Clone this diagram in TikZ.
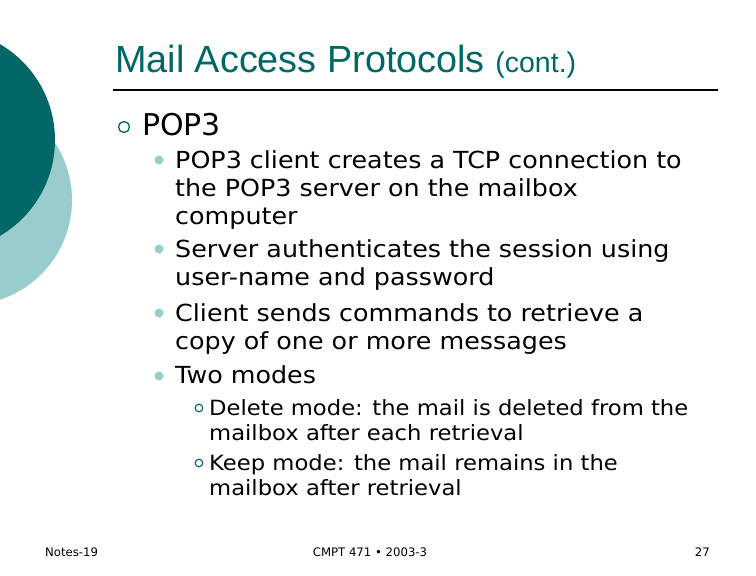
\documentclass[tikz,border=0pt]{standalone}
\usepackage{fontspec}
\setmainfont{DejaVu Sans}[FakeStretch=1.08]
\newfontfamily\plainf{DejaVu Sans}
\newfontfamily\arialf{Liberation Sans}
\definecolor{darkteal}{RGB}{0,102,102}
\definecolor{lightteal}{RGB}{153,204,204}
\begin{document}
\begin{tikzpicture}[x=1pt,y=-1pt,
  body/.style={anchor=base west,inner sep=0pt,font=\fontsize{23.5}{28}\selectfont,align=left},
  sub/.style={anchor=base west,inner sep=0pt,font=\fontsize{21}{25}\selectfont,align=left},
  foot/.style={anchor=base,inner sep=0pt,font=\plainf\fontsize{11.7}{13}\selectfont}]
\useasboundingbox (0,0) rectangle (756,576);
\fill[lightteal] (-33,200) circle (105);
\fill[darkteal] (-56,140) circle (111);
\node[anchor=base west,inner sep=0pt,text=darkteal,font=\arialf\fontsize{37.8}{40}\selectfont] (title) at (115,72) {Mail Access Protocols {\fontsize{28.5}{30}\selectfont(cont.)}};
\draw[line width=1.5pt] (113,90) -- (718,90);
\draw[darkteal,line width=1.3pt] (124,127) circle (5.5);
\node[anchor=base west,inner sep=0pt,font=\plainf\fontsize{30}{32}\selectfont] (pop) at (142,135) {POP3};
\foreach \y in {160,249,313,376} \fill[lightteal] (159,\y) circle (4.5);
\node[body] (b1) at (175,224) {POP3 client creates a TCP connection to\\the POP3 server on the mailbox\\computer};
\node[body] (b2) at (175,285) {Server authenticates the session using\\user-name and password};
\node[body] (b3) at (175,349) {Client sends commands to retrieve a\\copy of one or more messages};
\node[body] (b4) at (175,383) {Two modes};
\foreach \y in {408,463} \draw[darkteal,line width=1.1pt] (199,\y) circle (3.8);
\node[sub] (s1) at (209,440) {Delete mode: the mail is deleted from the\\mailbox after each retrieval};
\node[sub] (s2) at (209,495) {Keep mode: the mail remains in the\\mailbox after retrieval};
\node[foot,anchor=base west] (f1) at (45,556) {Notes-19};
\node[foot] (f2) at (370,556) {CMPT 471 • 2003-3};
\node[foot,anchor=base east] (f3) at (710,556) {27};
\end{tikzpicture}
\end{document}
